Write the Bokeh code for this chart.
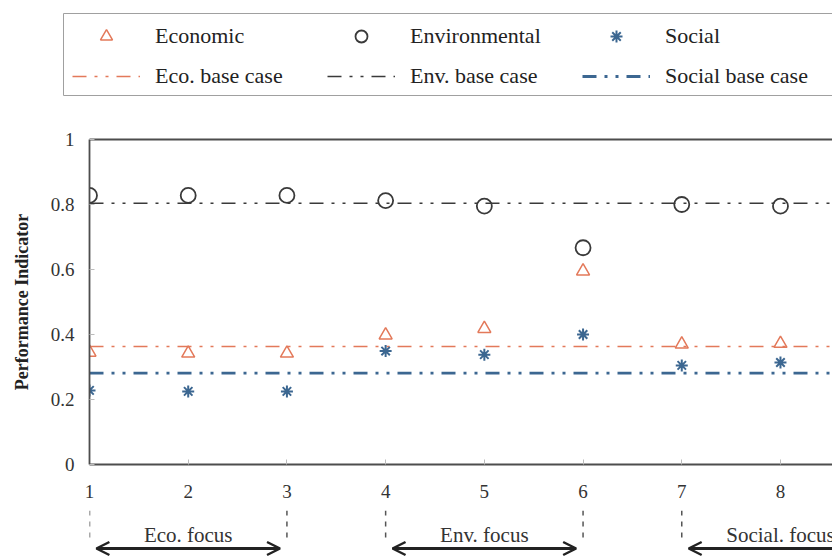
from bokeh.plotting import figure
from bokeh.models import (Range1d, FixedTicker, LinearAxis, Legend, LegendItem,
                          Arrow, OpenHead, ColumnDataSource)
from bokeh.layouts import column, row
from bokeh.core.properties import value
from bokeh.embed import file_html
from bokeh.resources import INLINE

# ---------------- data ----------------
cases = [1, 2, 3, 4, 5, 6, 7, 8]
economic = [0.345, 0.342, 0.342, 0.398, 0.418, 0.595, 0.370, 0.372]
environmental = [0.828, 0.828, 0.828, 0.812, 0.795, 0.667, 0.800, 0.795]
social = [0.228, 0.225, 0.225, 0.349, 0.338, 0.400, 0.305, 0.314]
eco_base = 0.363
env_base = 0.804
social_base = 0.281
base_x = [1, 9]

y_ticks = [0, 0.2, 0.4, 0.6, 0.8, 1]
y_tick_labels = ["0", "0.2", "0.4", "0.6", "0.8", "1"]

series_labels = ["Economic", "Environmental", "Social"]
base_labels = ["Eco. base case", "Env. base case", "Social base case"]

focus_labels = ["Eco. focus", "Env. focus", "Social. focus"]
focus_start = [1, 4, 7]
focus_end = [3, 6, 9]

SERIF = value("Liberation Serif")
ECO_C = "#e3795a"
ENV_C = "#3a3a3a"
SOC_C = "#3c6791"
DASH = "14 8 3 8 3 8"

marker_styles = [
    dict(marker="triangle", size=13, fill_color=None, line_color=ECO_C, line_width=1.5),
    dict(marker="circle", size=15, fill_color=None, line_color=ENV_C, line_width=1.8),
    dict(marker="asterisk", size=12, line_color=SOC_C, line_width=2),
]
line_styles = [
    dict(line_color=ECO_C, line_width=1.6, line_dash=DASH),
    dict(line_color=ENV_C, line_width=1.6, line_dash=DASH),
    dict(line_color=SOC_C, line_width=2.8, line_dash=DASH),
]

# ---------------- legend strip ----------------
top = figure(width=832, height=100, x_range=Range1d(0, 832), y_range=Range1d(0, 100),
             output_backend="svg", toolbar_location=None,
             min_border_left=0, min_border_right=0, min_border_top=0, min_border_bottom=0,
             x_axis_location=None, y_axis_location=None)
top.outline_line_color = None
top.xgrid.grid_line_color = None
top.ygrid.grid_line_color = None
# legend frame
top.quad(left=[63], right=[900], top=[87], bottom=[5], fill_color=None,
         line_color="#a0a0a0", line_width=1)

# legend keys (kept outside the visible range; only their styles are shown)
row1_items = []
for lab, st in zip(series_labels, marker_styles):
    r = top.scatter(x=[-500], y=[-500], **st)
    row1_items.append(LegendItem(label=lab, renderers=[r]))
row2_items = []
for lab, st in zip(base_labels, line_styles):
    r = top.line(x=[-500, -400], y=[-500, -500], **st)
    row2_items.append(LegendItem(label=lab, renderers=[r]))

for items, vy in ((row1_items, 49), (row2_items, 9)):
    lg = Legend(items=items, orientation="horizontal", location=(72, vy))
    lg.label_text_font = "Liberation Serif"
    lg.label_text_font_size = "22px"
    lg.label_text_color = "#222222"
    lg.glyph_width = 68
    lg.glyph_height = 30
    lg.label_height = 30
    lg.label_width = 150
    lg.label_standoff = 15
    lg.spacing = 22
    lg.padding = 0
    lg.margin = 0
    lg.border_line_color = None
    lg.background_fill_alpha = 0
    top.add_layout(lg, "center")

# ---------------- main plot ----------------
p = figure(width=832, height=410, x_range=Range1d(1, 8.527), y_range=Range1d(0, 1),
           output_backend="svg", toolbar_location=None,
           min_border_left=89, min_border_right=0, min_border_top=39,
           min_border_bottom=46, x_axis_location=None, y_axis_location=None)
p.outline_line_color = None
p.xgrid.grid_line_color = None
p.ygrid.grid_line_color = None

xaxis = LinearAxis(ticker=FixedTicker(ticks=cases))
yaxis = LinearAxis(ticker=FixedTicker(ticks=y_ticks),
                   major_label_overrides={t: l for t, l in zip(y_ticks, y_tick_labels)},
                   axis_label="Performance Indicator")
topaxis = LinearAxis(ticker=FixedTicker(ticks=[]))
for ax in (xaxis, yaxis, topaxis):
    ax.axis_line_color = "#4d4d4d"
    ax.axis_line_width = 1.8
    ax.major_tick_in = 5
    ax.major_tick_out = 0
    ax.major_tick_line_color = "#bbbbbb"
    ax.minor_tick_line_color = None
    ax.major_label_text_font = "Liberation Serif"
    ax.major_label_text_font_size = "19px"
    ax.major_label_text_color = "#333333"
xaxis.major_label_standoff = 20
yaxis.major_label_standoff = 15
yaxis.axis_label_text_font = "Liberation Serif"
yaxis.axis_label_text_font_style = "bold"
yaxis.axis_label_text_font_size = "18px"
yaxis.axis_label_text_color = "#222222"
yaxis.axis_label_standoff = 16
topaxis.major_label_text_font_size = "0px"
p.add_layout(xaxis, "below")
p.add_layout(yaxis, "left")
p.add_layout(topaxis, "above")

for b, st in zip([eco_base, env_base, social_base], line_styles):
    p.line(base_x, [b, b], **st)

src = ColumnDataSource(dict(case=cases, eco=economic, env=environmental, soc=social))
for col, st in zip(["eco", "env", "soc"], marker_styles):
    p.scatter("case", col, source=src, **st)

# ---------------- focus annotations ----------------
q = figure(width=832, height=49, x_range=p.x_range, y_range=Range1d(559, 510),
           output_backend="svg", toolbar_location=None,
           min_border_left=89, min_border_right=0, min_border_top=0, min_border_bottom=0,
           x_axis_location=None, y_axis_location=None)
q.outline_line_color = None
q.xgrid.grid_line_color = None
q.ygrid.grid_line_color = None

bounds = sorted(set(focus_start + focus_end))
q.segment(x0=bounds, y0=[510] * len(bounds), x1=bounds, y1=[540] * len(bounds),
          line_color="#555555", line_width=1.5, line_dash="5 6")

mids = [(a + b) / 2 for a, b in zip(focus_start, focus_end)]
q.text(x=mids, y=[534] * len(mids), text=focus_labels, text_font=SERIF,
       text_font_size="21px", text_color="#333333", text_align="center",
       text_baseline="middle")

inset = 0.07
asrc = ColumnDataSource(dict(x0=[s + inset for s in focus_start],
                             x1=[e - inset for e in focus_end],
                             y=[548] * len(focus_start)))
q.add_layout(Arrow(start=OpenHead(size=13, line_width=2.5, line_color="#222222"),
                   end=OpenHead(size=13, line_width=2.5, line_color="#222222"),
                   x_start="x0", y_start="y", x_end="x1", y_end="y", source=asrc,
                   line_width=3, line_color="#222222"))

layout = column(row(top), p, q, spacing=0)
open("out.html", "w").write(file_html(layout, INLINE))
